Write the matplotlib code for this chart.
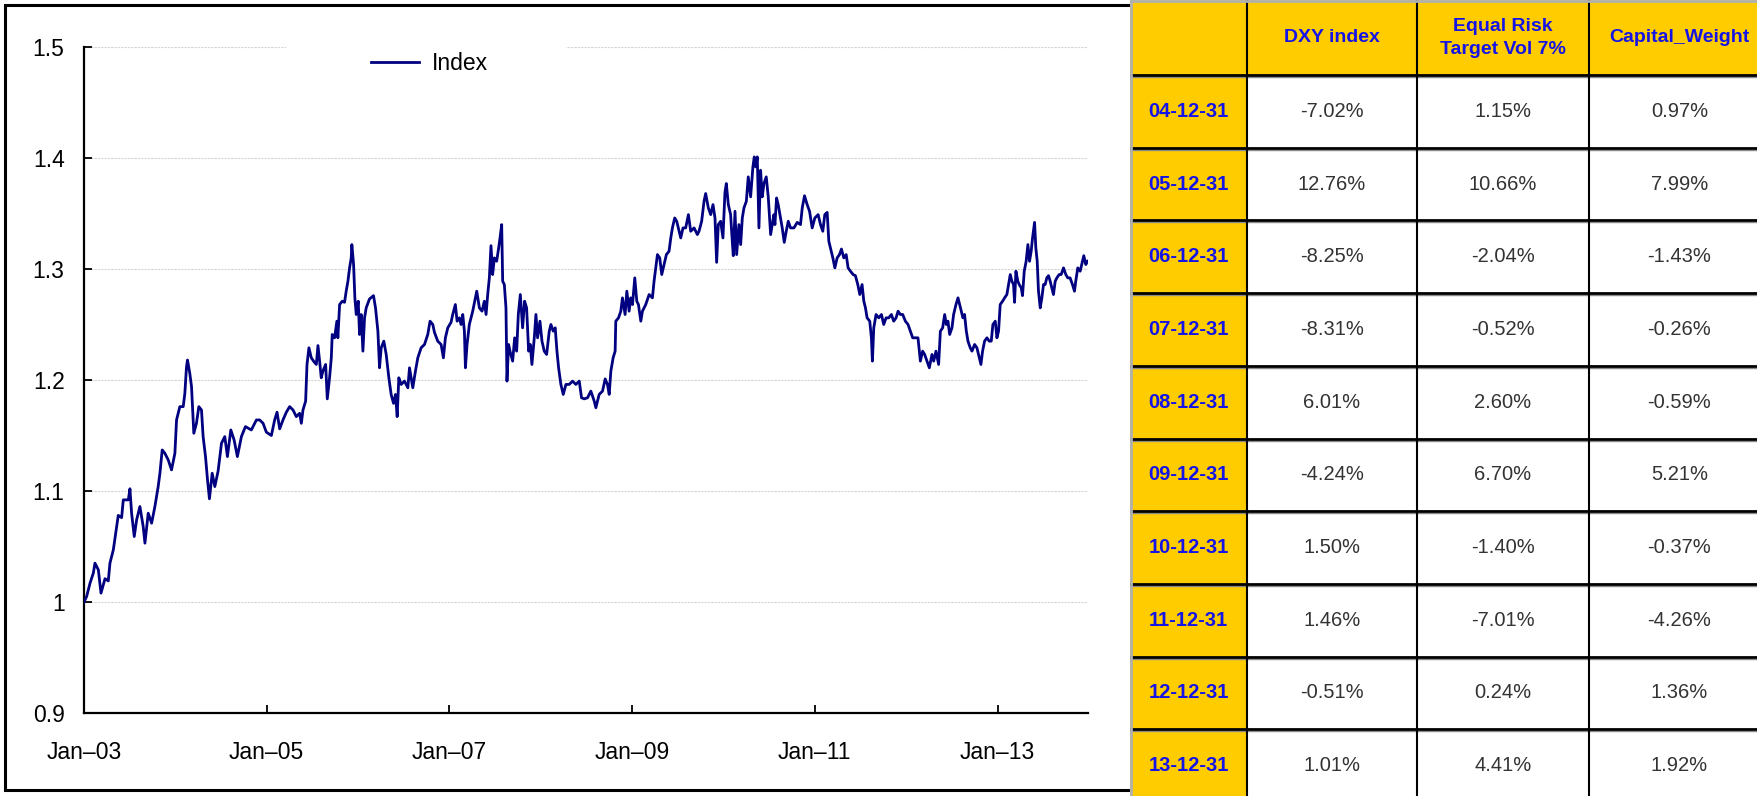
import matplotlib
matplotlib.use("Agg")
import matplotlib.pyplot as plt
from matplotlib.patches import Rectangle

# index level, time in decimal years
IDX_T = [
    2003.000, 2003.029, 2003.066, 2003.102, 2003.120, 2003.157, 2003.186, 2003.230, 2003.266, 2003.284,
    2003.321, 2003.357, 2003.375, 2003.412, 2003.430, 2003.485, 2003.503, 2003.521, 2003.550, 2003.576,
    2003.612, 2003.648, 2003.667, 2003.703, 2003.740, 2003.776, 2003.812, 2003.831, 2003.856, 2003.885,
    2003.922, 2003.958, 2003.995, 2004.013, 2004.049, 2004.086, 2004.104, 2004.122, 2004.133, 2004.158,
    2004.177, 2004.202, 2004.231, 2004.257, 2004.286, 2004.304, 2004.330, 2004.352, 2004.373, 2004.403,
    2004.432, 2004.468, 2004.505, 2004.541, 2004.570, 2004.607, 2004.643, 2004.679, 2004.723, 2004.767,
    2004.832, 2004.887, 2004.923, 2004.960, 2004.996, 2005.051, 2005.087, 2005.113, 2005.142, 2005.178,
    2005.215, 2005.251, 2005.288, 2005.324, 2005.360, 2005.379, 2005.397, 2005.426, 2005.441, 2005.462,
    2005.488, 2005.513, 2005.543, 2005.561, 2005.579, 2005.597, 2005.615, 2005.645, 2005.663, 2005.688,
    2005.707, 2005.717, 2005.743, 2005.768, 2005.779, 2005.798, 2005.827, 2005.852, 2005.870, 2005.889,
    2005.907, 2005.925, 2005.932, 2005.951, 2005.965, 2005.980, 2006.002, 2006.016, 2006.034, 2006.053,
    2006.071, 2006.089, 2006.125, 2006.169, 2006.191, 2006.217, 2006.235, 2006.253, 2006.282, 2006.308,
    2006.337, 2006.362, 2006.388, 2006.410, 2006.428, 2006.446, 2006.472, 2006.508, 2006.545, 2006.563,
    2006.599, 2006.628, 2006.654, 2006.690, 2006.727, 2006.763, 2006.788, 2006.818, 2006.836, 2006.872,
    2006.909, 2006.934, 2006.956, 2006.982, 2007.018, 2007.036, 2007.065, 2007.084, 2007.109, 2007.127,
    2007.146, 2007.164, 2007.175, 2007.193, 2007.218, 2007.255, 2007.299, 2007.328, 2007.357, 2007.382,
    2007.401, 2007.419, 2007.437, 2007.455, 2007.473, 2007.492, 2007.517, 2007.539, 2007.554, 2007.572,
    2007.583, 2007.601, 2007.619, 2007.630, 2007.648, 2007.663, 2007.692, 2007.714, 2007.736, 2007.754,
    2007.776, 2007.801, 2007.823, 2007.845, 2007.867, 2007.885, 2007.903, 2007.929, 2007.947, 2007.965,
    2007.991, 2008.013, 2008.038, 2008.064, 2008.093, 2008.111, 2008.136, 2008.158, 2008.177, 2008.195,
    2008.220, 2008.246, 2008.275, 2008.311, 2008.348, 2008.384, 2008.421, 2008.446, 2008.475, 2008.512,
    2008.548, 2008.585, 2008.603, 2008.639, 2008.676, 2008.705, 2008.730, 2008.749, 2008.767, 2008.792,
    2008.814, 2008.821, 2008.851, 2008.876, 2008.894, 2008.923, 2008.942, 2008.967, 2008.985, 2009.004,
    2009.029, 2009.051, 2009.069, 2009.095, 2009.113, 2009.149, 2009.186, 2009.222, 2009.240, 2009.259,
    2009.277, 2009.302, 2009.324, 2009.350, 2009.375, 2009.404, 2009.423, 2009.441, 2009.466, 2009.488,
    2009.514, 2009.532, 2009.557, 2009.586, 2009.616, 2009.641, 2009.678, 2009.714, 2009.732, 2009.761,
    2009.787, 2009.805, 2009.834, 2009.860, 2009.885, 2009.907, 2009.925, 2009.943, 2009.969, 2009.994,
    2010.016, 2010.031, 2010.053, 2010.078, 2010.089, 2010.107, 2010.126, 2010.144, 2010.169, 2010.188,
    2010.206, 2010.224, 2010.250, 2010.271, 2010.297, 2010.322, 2010.337, 2010.352, 2010.370, 2010.388,
    2010.406, 2010.424, 2010.443, 2010.468, 2010.490, 2010.516, 2010.552, 2010.563, 2010.581, 2010.599,
    2010.618, 2010.643, 2010.665, 2010.687, 2010.709, 2010.734, 2010.771, 2010.807, 2010.843, 2010.862,
    2010.887, 2010.916, 2010.942, 2010.971, 2011.000, 2011.036, 2011.062, 2011.087, 2011.109, 2011.135,
    2011.153, 2011.171, 2011.197, 2011.219, 2011.244, 2011.270, 2011.291, 2011.317, 2011.343, 2011.364,
    2011.390, 2011.419, 2011.444, 2011.470, 2011.492, 2011.517, 2011.536, 2011.554, 2011.572, 2011.601,
    2011.619, 2011.630, 2011.645, 2011.670, 2011.700, 2011.729, 2011.754, 2011.780, 2011.809, 2011.838,
    2011.863, 2011.889, 2011.911, 2011.936, 2011.962, 2011.991, 2012.020, 2012.046, 2012.071, 2012.100,
    2012.129, 2012.155, 2012.180, 2012.202, 2012.228, 2012.253, 2012.282, 2012.301, 2012.326, 2012.355,
    2012.374, 2012.399, 2012.421, 2012.439, 2012.457, 2012.476, 2012.501, 2012.519, 2012.545, 2012.567,
    2012.585, 2012.603, 2012.621, 2012.639, 2012.658, 2012.676, 2012.701, 2012.720, 2012.749, 2012.774,
    2012.792, 2012.818, 2012.836, 2012.858, 2012.884, 2012.909, 2012.931, 2012.949, 2012.975, 2012.993,
    2013.011, 2013.029, 2013.055, 2013.077, 2013.102, 2013.120, 2013.139, 2013.157, 2013.175, 2013.186,
    2013.201, 2013.222, 2013.237, 2013.259, 2013.273, 2013.292, 2013.313, 2013.332, 2013.350, 2013.368,
    2013.383, 2013.405, 2013.419, 2013.434, 2013.448, 2013.467, 2013.485, 2013.503, 2013.521, 2013.539,
    2013.558, 2013.576, 2013.612, 2013.631, 2013.649, 2013.674, 2013.696, 2013.722, 2013.747, 2013.769,
    2013.794, 2013.820, 2013.842, 2013.856, 2013.878, 2013.904, 2013.929, 2013.944, 2013.966, 2013.985,
]
IDX_V = [
    1.000, 1.005, 1.017, 1.026, 1.035, 1.029, 1.008, 1.021, 1.019, 1.035,
    1.047, 1.068, 1.078, 1.076, 1.092, 1.092, 1.102, 1.080, 1.059, 1.074,
    1.086, 1.068, 1.053, 1.080, 1.071, 1.086, 1.104, 1.116, 1.137, 1.134,
    1.128, 1.119, 1.134, 1.164, 1.176, 1.176, 1.188, 1.212, 1.218, 1.206,
    1.194, 1.152, 1.161, 1.176, 1.173, 1.149, 1.131, 1.110, 1.093, 1.116,
    1.104, 1.118, 1.143, 1.149, 1.131, 1.155, 1.146, 1.131, 1.149, 1.158,
    1.155, 1.164, 1.164, 1.161, 1.153, 1.150, 1.164, 1.171, 1.156, 1.164,
    1.171, 1.176, 1.173, 1.167, 1.170, 1.161, 1.173, 1.181, 1.214, 1.229,
    1.220, 1.217, 1.214, 1.231, 1.217, 1.202, 1.208, 1.214, 1.183, 1.202,
    1.220, 1.241, 1.238, 1.253, 1.238, 1.268, 1.271, 1.270, 1.280, 1.289,
    1.301, 1.310, 1.322, 1.304, 1.274, 1.259, 1.271, 1.241, 1.259, 1.226,
    1.256, 1.265, 1.273, 1.276, 1.265, 1.244, 1.211, 1.229, 1.235, 1.223,
    1.202, 1.187, 1.179, 1.187, 1.167, 1.202, 1.196, 1.199, 1.193, 1.211,
    1.193, 1.208, 1.220, 1.229, 1.232, 1.241, 1.253, 1.250, 1.243, 1.235,
    1.232, 1.220, 1.238, 1.247, 1.252, 1.259, 1.268, 1.253, 1.256, 1.250,
    1.259, 1.244, 1.211, 1.232, 1.250, 1.262, 1.280, 1.265, 1.262, 1.271,
    1.259, 1.277, 1.292, 1.321, 1.295, 1.310, 1.307, 1.319, 1.328, 1.340,
    1.289, 1.286, 1.265, 1.199, 1.232, 1.226, 1.217, 1.238, 1.226, 1.259,
    1.277, 1.247, 1.271, 1.265, 1.226, 1.232, 1.214, 1.238, 1.259, 1.238,
    1.253, 1.235, 1.226, 1.223, 1.244, 1.250, 1.244, 1.247, 1.226, 1.211,
    1.196, 1.187, 1.196, 1.196, 1.199, 1.196, 1.199, 1.184, 1.183, 1.184,
    1.190, 1.181, 1.175, 1.187, 1.190, 1.201, 1.196, 1.187, 1.208, 1.220,
    1.226, 1.253, 1.256, 1.262, 1.274, 1.259, 1.280, 1.262, 1.274, 1.268,
    1.292, 1.271, 1.268, 1.253, 1.262, 1.268, 1.277, 1.274, 1.289, 1.301,
    1.313, 1.310, 1.295, 1.304, 1.313, 1.316, 1.328, 1.337, 1.346, 1.343,
    1.334, 1.328, 1.337, 1.337, 1.349, 1.334, 1.337, 1.331, 1.334, 1.343,
    1.361, 1.368, 1.355, 1.349, 1.358, 1.346, 1.306, 1.340, 1.343, 1.328,
    1.369, 1.377, 1.358, 1.349, 1.334, 1.312, 1.352, 1.313, 1.340, 1.322,
    1.346, 1.355, 1.361, 1.383, 1.365, 1.392, 1.401, 1.392, 1.401, 1.337,
    1.389, 1.365, 1.377, 1.383, 1.365, 1.331, 1.349, 1.340, 1.364, 1.358,
    1.349, 1.337, 1.324, 1.334, 1.343, 1.337, 1.337, 1.342, 1.340, 1.355,
    1.366, 1.358, 1.352, 1.337, 1.346, 1.349, 1.340, 1.334, 1.349, 1.351,
    1.325, 1.319, 1.310, 1.301, 1.310, 1.313, 1.318, 1.310, 1.313, 1.301,
    1.298, 1.295, 1.294, 1.286, 1.277, 1.286, 1.271, 1.265, 1.256, 1.253,
    1.238, 1.217, 1.247, 1.259, 1.256, 1.259, 1.250, 1.256, 1.256, 1.259,
    1.253, 1.256, 1.262, 1.259, 1.259, 1.253, 1.250, 1.244, 1.238, 1.238,
    1.238, 1.217, 1.226, 1.223, 1.217, 1.211, 1.223, 1.217, 1.226, 1.214,
    1.244, 1.247, 1.259, 1.250, 1.253, 1.241, 1.247, 1.259, 1.268, 1.274,
    1.268, 1.262, 1.256, 1.259, 1.244, 1.235, 1.229, 1.226, 1.232, 1.229,
    1.223, 1.214, 1.226, 1.235, 1.238, 1.235, 1.235, 1.250, 1.253, 1.238,
    1.244, 1.268, 1.271, 1.274, 1.277, 1.286, 1.295, 1.289, 1.286, 1.270,
    1.298, 1.289, 1.286, 1.283, 1.276, 1.298, 1.307, 1.322, 1.307, 1.316,
    1.328, 1.342, 1.319, 1.307, 1.280, 1.265, 1.274, 1.286, 1.286, 1.292,
    1.294, 1.289, 1.277, 1.289, 1.292, 1.295, 1.295, 1.301, 1.295, 1.292,
    1.292, 1.286, 1.280, 1.289, 1.301, 1.298, 1.307, 1.312, 1.304, 1.307,
]

YTICKS = [0.9, 1.0, 1.1, 1.2, 1.3, 1.4, 1.5]
XTICKS = [2003, 2005, 2007, 2009, 2011, 2013]
XTICK_LABELS = ["Jan\u201303", "Jan\u201305", "Jan\u201307", "Jan\u201309", "Jan\u201311", "Jan\u201313"]

# yearly returns table
TBL_COLS = ["DXY index", "Equal Risk\nTarget Vol 7%", "Capital_Weight"]
TBL_DATES = ["04-12-31", "05-12-31", "06-12-31", "07-12-31", "08-12-31",
             "09-12-31", "10-12-31", "11-12-31", "12-12-31", "13-12-31"]
DXY_RET = [-7.02, 12.76, -8.25, -8.31, 6.01, -4.24, 1.50, 1.46, -0.51, 1.01]
ERC_RET = [1.15, 10.66, -2.04, -0.52, 2.60, 6.70, -1.40, -7.01, 0.24, 4.41]
CAP_RET = [0.97, 7.99, -1.43, -0.26, -0.59, 5.21, -0.37, -4.26, 1.36, 1.92]

W, H = 1758, 796
NAVY = "#000080"
GOLD = "#FFCC00"
BLUE = "#1414E6"
TBL_FONT = ["Liberation Sans", "DejaVu Sans"]

plt.rcParams["font.family"] = ["Liberation Sans", "DejaVu Sans"]

fig = plt.figure(figsize=(W / 100, H / 100), dpi=100)
fig.patch.set_facecolor("white")

# outer frame around the chart area
fig.add_artist(Rectangle((5 / W, 1 - 790 / H), 1140 / W, 785 / H, transform=fig.transFigure,
                         fill=False, ec="black", lw=2.2, zorder=-1))

ax = fig.add_axes([84 / W, 1 - 713 / H, (1088 - 84) / W, (713 - 47) / H])
ax.plot(IDX_T, IDX_V, color=NAVY, lw=2.0, label="Index", zorder=3)
ax.set_xlim(2003.0, 2013.99)
ax.set_ylim(0.9, 1.5)
ax.set_yticks(YTICKS)
ax.set_yticklabels([f"{v:g}" for v in YTICKS])
ax.set_xticks(XTICKS)
ax.set_xticklabels(XTICK_LABELS)
ax.tick_params(axis="both", direction="in", length=6, width=1.3, labelsize=16.5, colors="black")
ax.tick_params(axis="y", pad=14)
ax.tick_params(axis="x", pad=20)
for side in ("top", "right"):
    ax.spines[side].set_visible(False)
for side in ("left", "bottom"):
    ax.spines[side].set_linewidth(1.6)
ax.yaxis.grid(True, color="#d4d4d4", lw=0.8, ls=(0, (2, 1)))
ax.set_axisbelow(True)

# white legend box that interrupts the top gridline
ax.add_patch(Rectangle((0.201, 0.93), 0.279, 0.09, transform=ax.transAxes,
                       fc="white", ec="none", zorder=1.5, clip_on=False))
ax.legend(loc="center left", bbox_to_anchor=(0.286, 0.975), frameon=False, fontsize=16.5,
          handlelength=2.1, handletextpad=0.55, borderpad=0, borderaxespad=0)

# table on the right, drawn in pixel units
tax = fig.add_axes([1130 / W, 0, (W - 1130) / W, 1], zorder=5)
tax.set_xlim(0, W - 1130)
tax.set_ylim(H, 0)
tax.axis("off")

col_edges = [0, 117, 287, 459, 640]
row_h = 72.7
row_edges = [0, 75] + [75 + row_h * (i + 1) for i in range(len(TBL_DATES))]

# backgrounds
tax.add_patch(Rectangle((0, 0), 640, H, fc="white", ec="none"))
tax.add_patch(Rectangle((0, 0), 640, 75, fc=GOLD, ec="none"))
tax.add_patch(Rectangle((0, 0), col_edges[1], H, fc=GOLD, ec="none"))

# grid lines
for y in row_edges[1:-1]:
    tax.plot([0, 640], [y + 2.0, y + 2.0], color="#8a8a8a", lw=1.0)
    tax.plot([0, 640], [y, y], color="black", lw=2.0)
for x in col_edges[1:-1]:
    tax.plot([x, x], [0, H], color="black", lw=1.5)
tax.plot([1, 1], [0, H], color="#b0b0b0", lw=2.0)
tax.plot([0, 640], [1, 1], color="#b0b0b0", lw=2.0)

def cx(i):
    return (col_edges[i] + col_edges[i + 1]) / 2

for j, name in enumerate(TBL_COLS):
    tax.text(cx(j + 1), 38, name, ha="center", va="center", color=BLUE,
             fontsize=14, fontweight="bold", family=TBL_FONT, linespacing=1.5)

for i, d in enumerate(TBL_DATES):
    yc = 75 + row_h * (i + 0.5)
    tax.text(cx(0), yc, d, ha="center", va="center", color=BLUE,
             fontsize=14.5, fontweight="bold", family=TBL_FONT)
    for j, vals in enumerate((DXY_RET, ERC_RET, CAP_RET)):
        tax.text(cx(j + 1), yc, f"{vals[i]:.2f}%", ha="center", va="center",
                 color="#333333", fontsize=14.5, family=TBL_FONT)

fig.savefig("out.png", dpi=100)
